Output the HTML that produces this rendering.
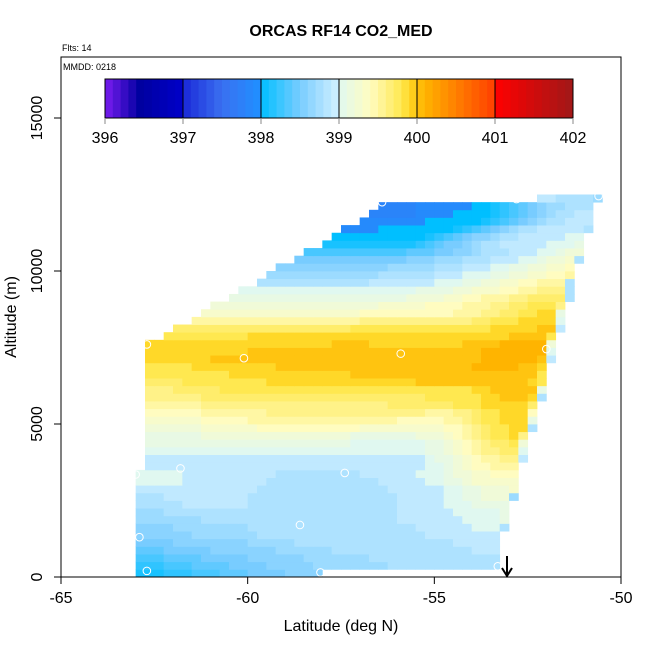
<!DOCTYPE html>
<html><head><meta charset="utf-8">
<style>
html,body{margin:0;padding:0;background:#fff;}
svg text{font-family:"Liberation Sans",Arial,sans-serif;}
</style></head>
<body>
<svg id="chart" width="650" height="650" viewBox="0 0 650 650" xmlns="http://www.w3.org/2000/svg">
<text x="341" y="36" text-anchor="middle" font-size="16" font-weight="bold">ORCAS RF14 CO2_MED</text>
<text x="62" y="51" font-size="9">Flts: 14</text>
<g id="cells"></g>
<g id="pts"></g>
<rect x="61" y="57" width="560" height="520" fill="none" stroke="#000" stroke-width="1"/>
<text x="63" y="70" font-size="9">MMDD: 0218</text>
<g id="cbar"></g>
<g id="axes"></g>
<g stroke="#000" stroke-width="2" fill="none">
<line x1="507" y1="556" x2="507" y2="576"/>
<polyline points="502,568 507,576 512,568"/>
</g>
<text x="341" y="631" text-anchor="middle" font-size="16">Latitude (deg N)</text>
<text transform="translate(16,317) rotate(-90)" text-anchor="middle" font-size="16">Altitude (m)</text>
</svg>
<script>
// ---- data ----
const latTicks=[-65,-60,-55,-50];
const altTicks=[0,5000,10000,15000];
const cbarTicks=[396,397,398,399,400,401,402];
const codeChars="ABCDEFGHIJKLMNOPQRSTUVWXYZ12";
const codeBase=397.5, codeStep=0.1;
const colLat0=-63.0, colWidth=0.25, rowAlt0=0, rowHeight=250;
const rowStart=[0,0,0,0,0,0,0,0,0,0,0,0,0,0,1,1,1,1,1,1,1,1,1,1,1,1,1,1,1,1,1,3,4,6,7,8,10,11,13,14,15,17,18,20,21,22,24,25,26,43];
const rowEnd=[19,38,38,38,38,38,39,39,39,39,40,40,40,40,40,41,41,41,41,42,42,42,42,43,43,43,43,43,44,44,44,44,45,45,45,45,46,46,46,46,46,47,47,47,47,48,48,48,48,49];
const rowCodes=[
"GGGHHHIIIJJJKKKKLLLL",
"HHHIIIJJJJKKKKLLLLLMMMMMMMNNNNNNNNNNNN",
"IIIJJJJKKKKKLLLLLLMMMMMMNNNNNNNNNNNNNN",
"JJJKKKKKLLLLLLLMMMMMNNNNNNNNNNNNNNNOOO",
"KKKKLLLLLLLLMMMMMNNNNNNNNNNNNNNNNOOOOO",
"LLLLLLMMMMMMMNNNNNNNNNNNNNNNNNOOOOOOOO",
"LLLLMMMMMMMMNNNNNNNNNNNNNNNNNOOOOOOPPPN",
"MMMMMMMNNNNNNNNNNNNNNNNNNNNOOOOOOPPPPQ",
"MMMNNNNNNNNNNNNNNNNNNNNNNNNOOOOOPPPPPQ",
"NNNNNOOOOOONNNNNNNNNNNNNNNNOOOOPPPQQQQ",
"NNNOOOOOOOOONNNNNNNNNNNNNNNOOOOOPPQQRRRM",
"OOOOOOOOOOOONNNNNNNNNNNNNNOOOOOPPQQRRRS",
"PPPPPOOOOOOOOONNNNNNNNNNNOOOOOPPQQRSSSSS",
"PPPPPOOOOOOOOONNNNNNNNNOOOOOOPPQRRSSTTT",
"OOOOOOOOOOOOOOOOOOOOOOOOOOOOOPPQRSTTUUU",
"OOOOOOOOOOOOOOOOOOOOOOOOOOOOOPQQRSTUUVVO",
"PPPPPPPPPPPPPPPPPPPPPPPPPPPPPPQQRSTUVVWWP",
"QQQQQQQQQQQQQQQQQQQQQQPPPPPPPPQQRSTUVWWXR",
"QQQQQQRRRRRRRRRRRRRRRRRQQQQQQQRRRSTUVWXXYV",
"RRRRRRSSSSSSTTTTTTTTTTTTSSSSSSSSSTTUVWXXYYN",
"SSSSSSTTTTTUUUUUUUUUUUUUUUUUTTTTTTUUVWXXYYYQ",
"TTTTTTUUUUUUUVVVVVVVVVVVVVVVVVVUUUVVWXXYYYT",
"UUUUUUVVVVVVVVVVVVVVVVVVVVWWWWWWWXXXYYYYYW",
"VVVVVVWWWWWWWWWWWWWWWWWWWWWWWWXXXXXXYYZZZYN",
"VVVWWWWWXXXXXXXXXXXXXXXXXXXXXXXXXXXYYZZZZZQ",
"WWWWXXXXXXXXXYYYYYYYYYYYYYYYYZZZZZZZZZZZZYX",
"XXXXXXXXXYYYYYYYYYYYYYZZZZZZZZZZZZZZZZZZZZX",
"XXXXXYYYYYYYYYZZZZZZZZZZZZZZZZZZZZ11111ZZY",
"YYYYYYYZZZZZZZZZZZZZZZZZZZZZZZZZZZZ111111ZO",
"YYYYYYYYYYYZZZZZZZZZZZZZZZZZZZZZZZZ1111111P",
"YYYYYYYYYYYYYYYYYYYZZZYYYYYYYYYYZZZ11111R",
"XXXXXXXXXYYYYYYYYYYYYYYYYYYYYYYYYYYZZZZX",
"WWWWWWWWWWWWWWWWWXXXXXXXXXXXXXXYYYYZZO",
"UUUUUUUUUUUUUUUUUVVVVVVVVVVVWWXXYYYYP",
"SSSSSSSSSSSSSSSSTTTTTTTTTTUUVVWWXXYYQ",
"RRRRRRRRRRRRRRRRRSSSSSTTTTUUVVWWXXXV",
"QQQQQQQQQQQQQQQQQQRRRRSSTTUUVVWWWWN",
"PPPPPPPPPPPPPPPPPPQQQQRRSSTTUUVVVN",
"NNNNNNNNNNNNOOOOOOPPPQQRRSSTTUUUN",
"MMMMMMMMMMMMNNNNNOOOPPPQQRRSSTTU",
"LLLLLLLLLLLLMMMMNNNOOOPPQQRRSST",
"KKKKKKKKKKKKLLLMMNNNOOOPPQRRSN",
"IIIIIIIIIIIJJJKLLMNNNOOOPPQRR",
"GGGGGGGGGGHIJKLMNNOOOOOPPPQ",
"FFFFFFFFFFGHIJKLLMNNOOOOOPP",
"EEEEFFFFFFFFGHIJKLMNNOOOOON",
"EEEEEEEFFFFFFGHIJKLMNNOOO",
"DDDDDEEEEFFFFGHIJKLMNNOO",
"DDDDEEEEEEFFFGHIJKLMMNNN",
"OONNNNM"];
const ptLat=[-56.4,-52.8,-50.6,-62.7,-60.1,-55.9,-52.0,-61.8,-57.4,-63.0,-62.9,-58.6,-62.7,-58.05,-53.3];
const ptAlt=[12250,12350,12450,7600,7150,7300,7450,3550,3400,3350,1300,1700,200,150,350];

// ---- scales ----
const X0=61,X1=621,Y0=577,Y1=118;
const xs=v=>X0+(v-(-65))/15*(X1-X0);
const ys=v=>Y0-(v-0)/15000*(Y0-Y1);
const stops=[[396.0,"#7a1cf0"],[396.45,"#0000a0"],[396.99,"#0000c8"],[397.0,"#1a28d8"],[397.5,"#3a70f0"],[397.99,"#2090ff"],[398.0,"#00bfff"],[398.5,"#78ccff"],[398.99,"#d0f0ff"],[399.0,"#e0f8f0"],[399.4,"#fffcc0"],[399.8,"#ffe850"],[399.9,"#ffd828"],[400.0,"#ffc410"],[400.1,"#ffb400"],[400.99,"#ff4000"],[401.0,"#ff0000"],[402,"#a01818"]];
function hex(c){return [1,3,5].map(i=>parseInt(c.substr(i,2),16));}
function cmap(v){
  if(v<=stops[0][0])return stops[0][1];
  for(let i=1;i<stops.length;i++){
    if(v<=stops[i][0]){const a=hex(stops[i-1][1]),b=hex(stops[i][1]);const t=(v-stops[i-1][0])/(stops[i][0]-stops[i-1][0]);
      return "rgb("+a.map((x,k)=>Math.round(x+(b[k]-x)*t)).join(",")+")";}
  }
  return stops[stops.length-1][1];
}
const NS="http://www.w3.org/2000/svg";
function mk(tag,attrs,parent){const e=document.createElementNS(NS,tag);for(const k in attrs)e.setAttribute(k,attrs[k]);parent.appendChild(e);return e;}

// heatmap cells
const cells=document.getElementById("cells");
rowCodes.forEach((s,r)=>{
  const a0=rowAlt0+r*rowHeight;
  const n=rowEnd[r]-rowStart[r]+1;
  for(let c=rowStart[r];c<=rowEnd[r];c++){
    const j=c-rowStart[r];
    const i=(n<=1||s.length<=1)?0:Math.round(j*(s.length-1)/(n-1));
    const v=codeBase+codeChars.indexOf(s[i])*codeStep;
    const la=colLat0+c*colWidth;
    const x=xs(la),x2=xs(la+colWidth),y=ys(a0+rowHeight),y2=ys(a0);
    const el=mk("rect",{x:x.toFixed(2),y:y.toFixed(2),width:(x2-x+0.4).toFixed(2),height:(y2-y+0.4).toFixed(2),fill:cmap(v)},cells);
    
    
  }
});
// points
const pts=document.getElementById("pts");
ptLat.forEach((la,i)=>{
  const el=mk("circle",{cx:xs(la),cy:ys(ptAlt[i]),r:3.8,fill:"none",stroke:"#fff","stroke-width":1},pts);
  
  
});
// axes
const ax=document.getElementById("axes");
latTicks.forEach(t=>{
  const x=xs(t);
  mk("line",{x1:x,y1:Y0,x2:x,y2:Y0+7,stroke:"#000"},ax);
  const tx=mk("text",{x:x,y:603,"text-anchor":"middle","font-size":"16"},ax);tx.textContent=t;
  
  
});
altTicks.forEach(t=>{
  const y=ys(t);
  mk("line",{x1:X0,y1:y,x2:X0-7,y2:y,stroke:"#000"},ax);
  const tx=mk("text",{x:0,y:0,transform:"translate(42,"+y+") rotate(-90)","text-anchor":"middle","font-size":"16"},ax);tx.textContent=t;
  
  
});
// colorbar
const cb=document.getElementById("cbar");
const CX0=105,CX1=573,CY0=79,CY1=118;
const cbx=v=>CX0+(v-396)/6*(CX1-CX0);
for(let k=0;k<60;k++){
  const v0=396+k*0.1;
  const el=mk("rect",{x:cbx(v0),y:CY0,width:(CX1-CX0)/60+0.5,height:CY1-CY0,fill:cmap(v0+0.05)},cb);
  
  
}
mk("rect",{x:CX0,y:CY0,width:CX1-CX0,height:CY1-CY0,fill:"none",stroke:"#000"},cb);
cbarTicks.forEach(t=>{
  const x=cbx(t);
  mk("line",{x1:x,y1:CY0,x2:x,y2:CY1,stroke:"#000"},cb);
  mk("line",{x1:x,y1:CY1,x2:x,y2:CY1+6,stroke:"#888"},cb);
  const tx=mk("text",{x:x,y:143,"text-anchor":"middle","font-size":"16"},cb);tx.textContent=t;
  
  
});
</script>
</body></html>
